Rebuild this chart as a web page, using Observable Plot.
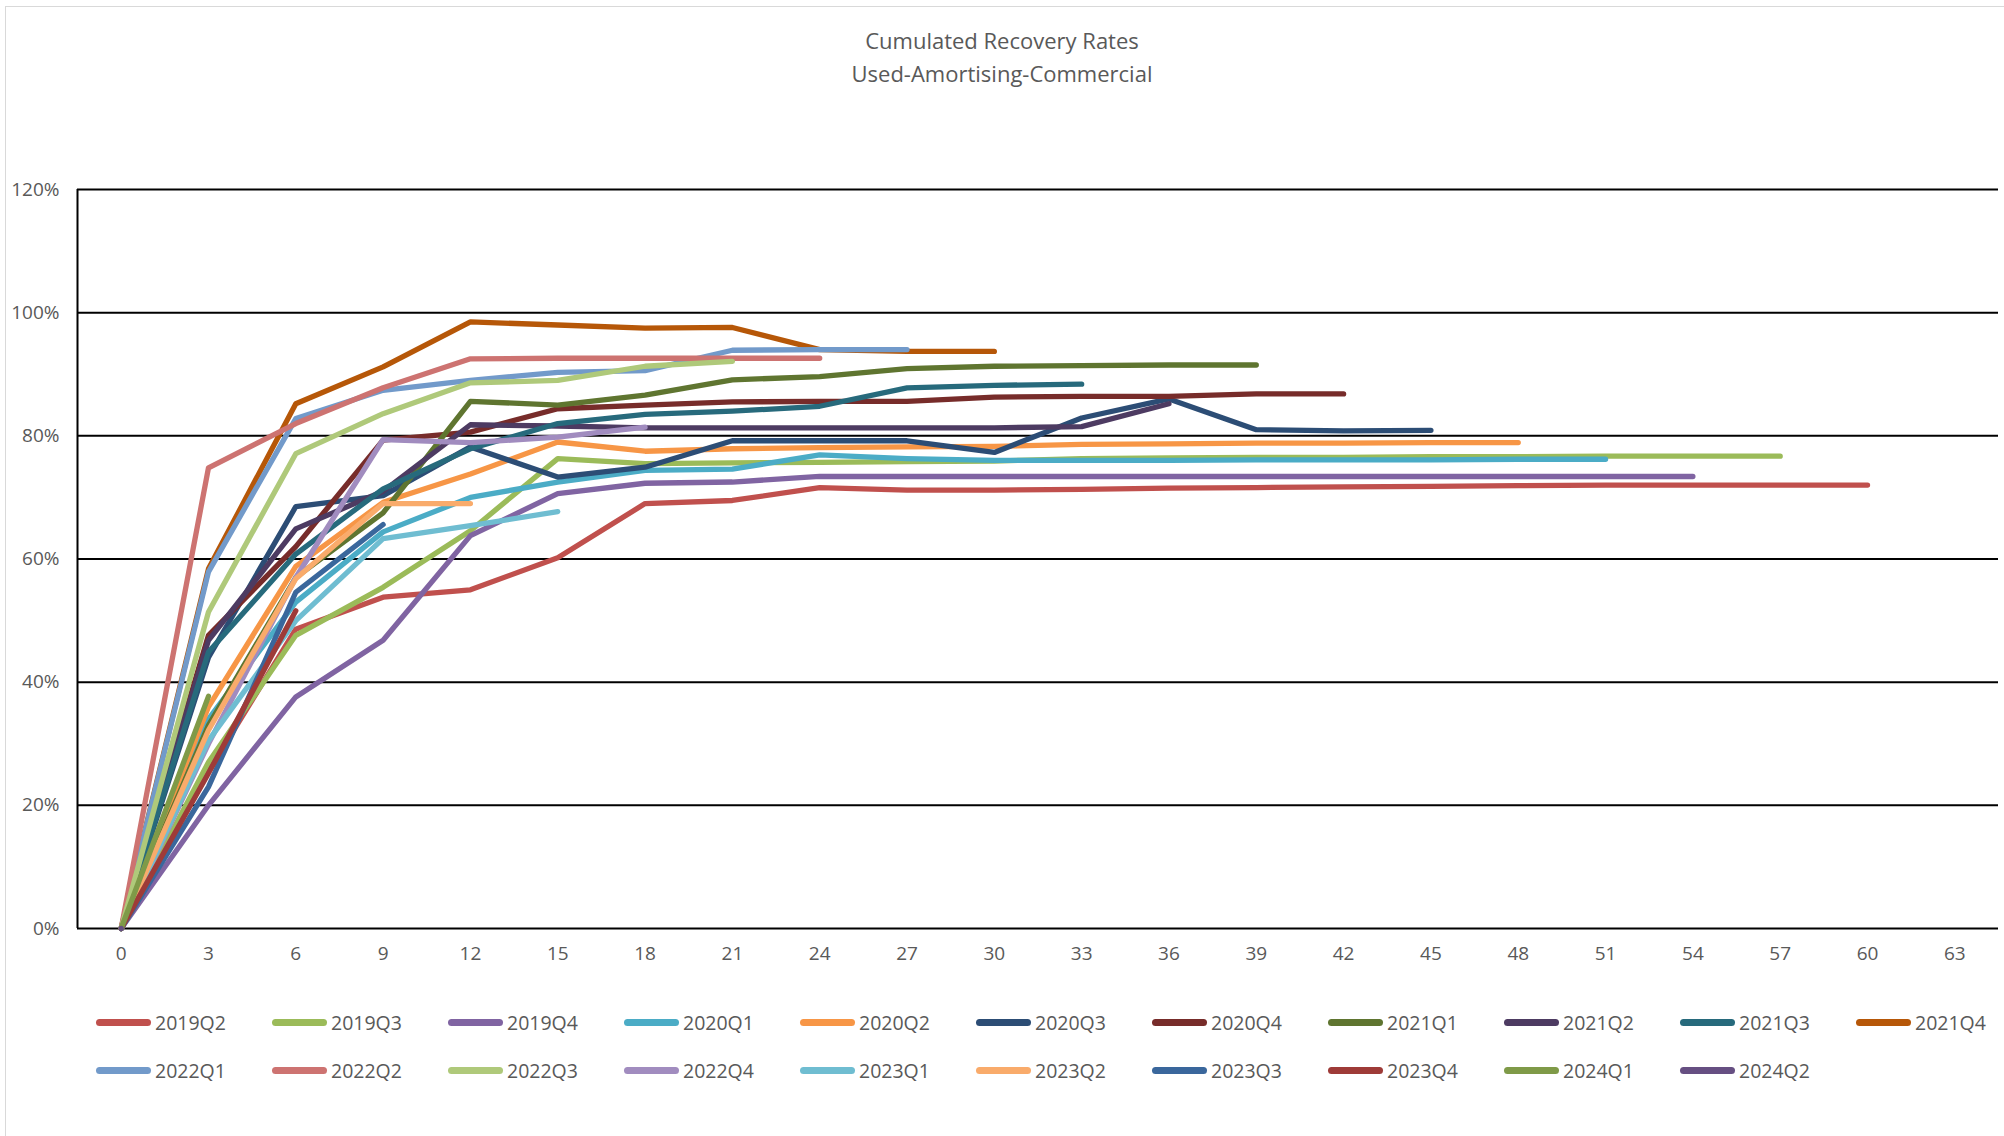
<!DOCTYPE html>
<html>
<head>
<meta charset="utf-8">
<script src="https://cdn.jsdelivr.net/npm/d3@7"></script>
<script src="https://cdn.jsdelivr.net/npm/@observablehq/plot@0.6"></script>
<style>
  html, body { margin: 0; padding: 0; background: #fff; }
  body { width: 2004px; height: 1136px; position: relative; overflow: hidden; font-family: "Open Sans", sans-serif; color: #595959; }
  #frame { position: absolute; left: 5px; top: 6px; width: 2100px; height: 1300px; border: 1px solid #d9d9d9; pointer-events: none; }
  #header { position: relative; height: 150px; width: 2004px; }
  .t { position: absolute; left: 0; width: 2004px; text-align: center; font-size: 22px; line-height: 33px; color: #595959; }
  #chart { position: relative; height: 830px; width: 2004px; }
  #legend { position: relative; width: 2004px; height: 156px; }
  .item { position: absolute; height: 26px; display: flex; align-items: center; font-size: 19.5px; color: #595959; white-space: nowrap; }
  .sw { display: inline-block; width: 55px; height: 7px; border-radius: 3.5px; margin-right: 4px; }
</style>
</head>
<body>
<div id="frame"></div>
<div id="header">
  <div class="t" style="top:24px">Cumulated Recovery Rates</div>
  <div class="t" style="top:57px">Used-Amortising-Commercial</div>
</div>
<div id="chart"></div>
<div id="legend"></div>
<script>
// Months on book (x positions of each observation)
const months = [0, 3, 6, 9, 12, 15, 18, 21, 24, 27, 30, 33, 36, 39, 42, 45, 48, 51, 54, 57, 60];
const xTicks = [0, 3, 6, 9, 12, 15, 18, 21, 24, 27, 30, 33, 36, 39, 42, 45, 48, 51, 54, 57, 60, 63];
const yTicks = [0, 20, 40, 60, 80, 100, 120];

// Cumulated recovery rates (%) per cohort
const r2019Q2 = [0, 25.5, 48.6, 53.8, 55.0, 60.2, 69.0, 69.5, 71.6, 71.2, 71.2, 71.3, 71.5, 71.6, 71.7, 71.8, 71.9, 72.0, 72.0, 72.0, 72.0];
const r2019Q3 = [0, 27.0, 47.6, 55.4, 64.6, 76.3, 75.5, 75.6, 75.7, 75.8, 75.9, 76.3, 76.4, 76.5, 76.5, 76.6, 76.6, 76.7, 76.7, 76.7];
const r2019Q4 = [0, 20.0, 37.6, 46.8, 63.8, 70.6, 72.3, 72.5, 73.4, 73.4, 73.4, 73.4, 73.4, 73.4, 73.4, 73.4, 73.4, 73.4, 73.4];
const r2020Q1 = [0, 34.0, 53.0, 64.4, 70.0, 72.5, 74.4, 74.6, 76.9, 76.3, 76.0, 76.0, 76.0, 76.1, 76.1, 76.1, 76.2, 76.2];
const r2020Q2 = [0, 36.0, 58.8, 69.2, 73.8, 79.0, 77.5, 77.9, 78.1, 78.2, 78.3, 78.6, 78.7, 78.8, 78.8, 78.9, 78.9];
const r2020Q3 = [0, 44.0, 68.5, 70.3, 78.2, 73.3, 74.9, 79.2, 79.2, 79.2, 77.3, 82.9, 86.0, 81.0, 80.8, 80.9];
const r2020Q4 = [0, 47.6, 62.0, 79.3, 80.6, 84.4, 85.0, 85.5, 85.6, 85.6, 86.3, 86.4, 86.4, 86.8, 86.8];
const r2021Q1 = [0, 33.0, 57.0, 67.5, 85.6, 85.0, 86.6, 89.1, 89.6, 90.9, 91.3, 91.4, 91.5, 91.5];
const r2021Q2 = [0, 46.8, 64.9, 71.0, 81.8, 81.6, 81.3, 81.3, 81.3, 81.3, 81.3, 81.5, 85.2];
const r2021Q3 = [0, 44.9, 60.8, 71.4, 77.9, 82.0, 83.5, 84.0, 84.8, 87.8, 88.2, 88.4];
const r2021Q4 = [0, 58.4, 85.2, 91.2, 98.5, 98.0, 97.5, 97.6, 94.0, 93.7, 93.7];
const r2022Q1 = [0, 57.9, 82.8, 87.4, 89.0, 90.3, 90.6, 93.9, 94.0, 94.0];
const r2022Q2 = [0, 74.8, 82.0, 87.8, 92.5, 92.6, 92.6, 92.6, 92.6];
const r2022Q3 = [0, 51.4, 77.1, 83.6, 88.6, 89.0, 91.3, 92.1];
const r2022Q4 = [0, 30.0, 57.0, 79.4, 78.9, 79.8, 81.4];
const r2023Q1 = [0, 30.5, 50.0, 63.3, 65.4, 67.7];
const r2023Q2 = [0, 32.2, 56.8, 69.0, 69.0];
const r2023Q3 = [0, 23.0, 54.6, 65.6];
const r2023Q4 = [0, 25.2, 51.6];
const r2024Q1 = [0, 37.7];
const r2024Q2 = [0];

const cohorts = ["2019Q2", "2019Q3", "2019Q4", "2020Q1", "2020Q2", "2020Q3", "2020Q4", "2021Q1", "2021Q2", "2021Q3", "2021Q4",
                 "2022Q1", "2022Q2", "2022Q3", "2022Q4", "2023Q1", "2023Q2", "2023Q3", "2023Q4", "2024Q1", "2024Q2"];
const cohortValues = [r2019Q2, r2019Q3, r2019Q4, r2020Q1, r2020Q2, r2020Q3, r2020Q4, r2021Q1, r2021Q2, r2021Q3, r2021Q4,
                      r2022Q1, r2022Q2, r2022Q3, r2022Q4, r2023Q1, r2023Q2, r2023Q3, r2023Q4, r2024Q1, r2024Q2];
const colors = ["#C0504D", "#9BBB59", "#8064A2", "#4BACC6", "#F79646", "#2C4D75", "#772C2A", "#5F7530", "#4D3B62", "#276A7C", "#B65708",
                "#729ACA", "#CD7371", "#AFC97A", "#A18CBF", "#6FBDD1", "#F9AB6B", "#3A679C", "#9E3B38", "#7F9A48", "#664F82"];

const data = cohorts.flatMap((c, i) => cohortValues[i].map((v, j) => ({cohort: c, month: months[j], value: v})));

const chart = Plot.plot({
  width: 2004,
  height: 830,
  marginLeft: 77,
  marginRight: 6,
  marginTop: 39,
  marginBottom: 52,
  style: {fontFamily: "'Open Sans', sans-serif", fontSize: "19px", color: "#595959", background: "transparent", overflow: "visible"},
  x: {domain: [-1.5, 64.5], label: null},
  y: {domain: [0, 120], label: null},
  color: {domain: cohorts, range: colors},
  marks: [
    Plot.ruleY(yTicks, {stroke: "#000", strokeWidth: 2}),
    Plot.ruleX([-1.5], {y1: 0, y2: 120, stroke: "#000", strokeWidth: 2}),
    Plot.lineY(data, {x: "month", y: "value", z: "cohort", stroke: "cohort", strokeWidth: 5.3,
                      strokeLinecap: "round", strokeLinejoin: "round"}),
    Plot.axisX(xTicks, {tickSize: 0, tickPadding: 18, tickFormat: d => String(d), fontSize: 19, label: null}),
    Plot.axisY(yTicks, {tickSize: 0, tickPadding: 18, tickFormat: d => d + "%", fontSize: 19, label: null})
  ]
});
document.getElementById("chart").appendChild(chart);

// Legend (two rows, 11 columns)
const legend = document.getElementById("legend");
cohorts.forEach((c, i) => {
  const row = Math.floor(i / 11), col = i % 11;
  const item = document.createElement("div");
  item.className = "item";
  item.style.left = (96 + col * 176) + "px";
  item.style.top = (42 + row * 48 - 13) + "px";
  const sw = document.createElement("span");
  sw.className = "sw";
  sw.style.background = colors[i];
  item.appendChild(sw);
  item.appendChild(document.createTextNode(c));
  legend.appendChild(item);
});
</script>
</body>
</html>
